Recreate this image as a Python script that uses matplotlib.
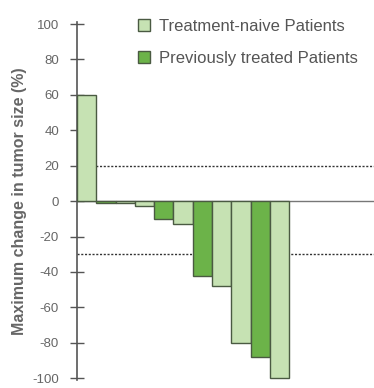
import matplotlib
matplotlib.use("Agg")
import matplotlib.pyplot as plt
from matplotlib.patches import Patch

values = [60, -1, -1, -3, -10, -13, -42, -48, -80, -88, -100]
groups = ["naive", "treated", "naive", "naive", "treated", "naive", "treated", "naive", "naive", "treated", "naive"]
colors = {"naive": "#c6e2b3", "treated": "#6cb349"}
labels = {"naive": "Treatment-naive Patients", "treated": "Previously treated Patients"}
yticks = [100, 80, 60, 40, 20, 0, -20, -40, -60, -80, -100]
thresholds = [20, -30]

plt.rcParams['font.family'] = ['Liberation Sans', 'DejaVu Sans']
fig = plt.figure(figsize=(3.74, 3.88), dpi=100)
ax = fig.add_axes([0.206, 0.0206, 0.794, 0.922])

x = list(range(len(values)))
ax.bar(x, values, width=1.0, color=[colors[g] for g in groups],
       edgecolor="#4a5a42", linewidth=1.0, zorder=3)
ax.axhline(0, color="#777777", linewidth=1.0, zorder=2)
for t in thresholds:
    ax.axhline(t, color="#333333", linewidth=1.0, linestyle=(0, (1.5, 1.2)), zorder=2)

ax.set_xlim(-0.5, 14.9)
ax.set_ylim(-101, 101)
ax.set_yticks(yticks)
ax.set_yticklabels([str(v) for v in yticks], fontsize=9.5, color="#666666")
ax.tick_params(axis="y", direction="inout", length=10, width=1, color="#555555", pad=8)
ax.set_xticks([])
for s in ["top", "right", "bottom"]:
    ax.spines[s].set_visible(False)
ax.spines["left"].set_color("#555555")
ax.spines["left"].set_linewidth(1.2)
ax.set_ylabel("Maximum change in tumor size (%)", fontsize=11.5, fontweight="bold",
              color="#666666", labelpad=4)

handles = [Patch(facecolor=colors[k], edgecolor="#4a5a42", label=labels[k]) for k in ["naive", "treated"]]
leg = fig.legend(handles=handles, loc="upper left", bbox_to_anchor=(0.35, 0.968), frameon=False,
                 fontsize=12, handlelength=0.75, handleheight=0.75, handletextpad=0.55, labelspacing=1.0,
                 labelcolor="#555555", borderaxespad=0)

fig.savefig("out.png", dpi=100)
